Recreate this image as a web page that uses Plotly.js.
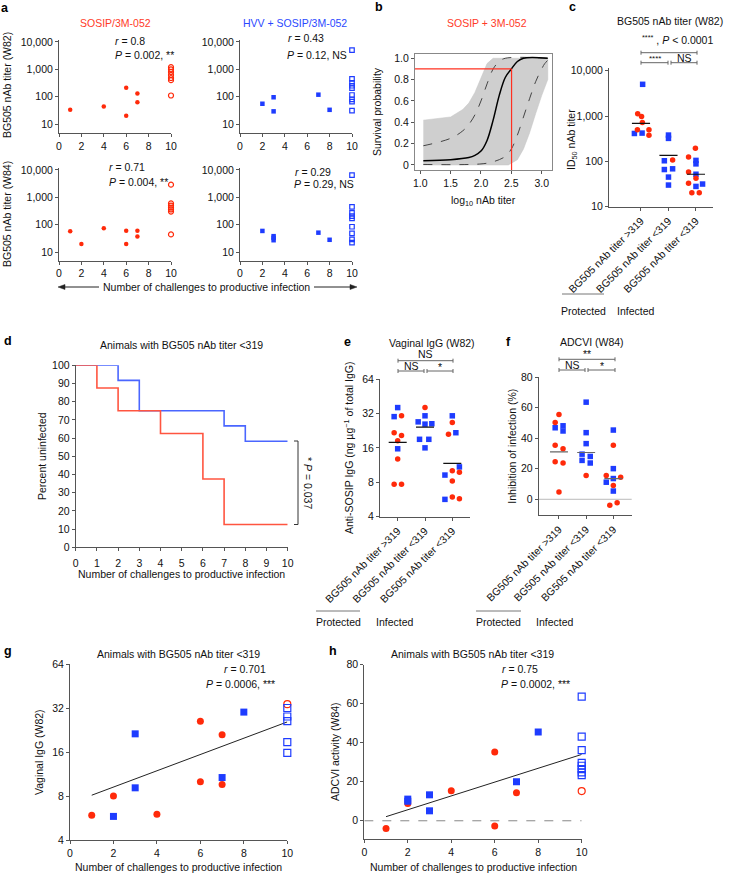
<!DOCTYPE html>
<html><head><meta charset="utf-8">
<script src="https://cdn.plot.ly/plotly-3.0.1.min.js"></script>
<style>html,body{margin:0;padding:0;background:#fff}#chart{width:729px;height:874px}</style>
</head><body><div id="chart"></div>
<script>
// ================= DATA =================
const MAX_CHALLENGES = 10;
// panel a : titer vs challenges (filled = infected, open = protected at 10 challenges)
const aSosipW82X = [1,4,6,6,7,7];
const aSosipW82Y = [33,44,210,20,130,62];
const aSosipW82Prot = [1200,1000,800,620,480,400,110];
const aHvvW82X = [2,3,3,7,8];
const aHvvW82Y = [55,95,29,118,33];
const aHvvW82Prot = [5000,450,320,250,205,115,80,66,31];
const aSosipW84X = [1,2,4,6,6,7,7];
const aSosipW84Y = [57,19.5,74,60,19.5,60,37];
const aSosipW84Prot = [2900,600,500,420,360,300,44];
const aHvvW84X = [2,3,3,3,7,8];
const aHvvW84Y = [59,38,33,27,51,28];
const aHvvW84Prot = [6500,450,270,205,170,84,48,29,22];
const aStats = [
  ["<i>r</i> = 0.8","<i>P</i> = 0.002, **"],
  ["<i>r</i> = 0.43","<i>P</i> = 0.12, NS"],
  ["<i>r</i> = 0.71","<i>P</i> = 0.004, **"],
  ["<i>r</i> = 0.29","<i>P</i> = 0.29, NS"]
];
// panel b : survival probability vs log10 titer
const bMedX = [1.05,1.5,1.8,1.9,2.0,2.1,2.2,2.3,2.4,2.5,2.6,2.7,3.1];
const bMedY = [0.04,0.05,0.07,0.09,0.13,0.23,0.42,0.65,0.82,0.9,0.97,1.0,1.0];
const bUpX = [1.05,1.5,1.7,1.8,1.9,2.0,2.1,2.2,2.3,2.4,3.1];
const bUpY = [0.18,0.25,0.32,0.38,0.47,0.6,0.76,0.9,0.97,1.0,1.0];
const bLoX = [1.05,2.0,2.2,2.4,2.5,2.6,2.7,2.8,2.9,3.0,3.05,3.1];
const bLoY = [0.005,0.01,0.03,0.08,0.15,0.28,0.45,0.62,0.78,0.9,0.95,0.98];
const bBandTopX = [1.05,1.5,1.7,1.8,1.9,2.0,2.1,2.2,3.1];
const bBandTopY = [0.42,0.45,0.52,0.58,0.68,0.82,0.95,1.0,1.0];
const bBandBotX = [1.05,2.45,2.6,2.7,2.8,2.9,3.0,3.1];
const bBandBotY = [0,0,0.05,0.15,0.3,0.48,0.65,0.8];
const bThresholdTiter = 319;
const bThresholdProb = 0.9;
// categories for c, e, f
const groupLabels = ["BG505 nAb titer >319","BG505 nAb titer <319","BG505 nAb titer <319"];
// panel c : ID50 titer
const cBlueY = [[5000,412,420],[380,321,103,68.5,66,45,30],[105,88,52,31.6,28]];
const cBlueDx = [[0.06,-0.24,0.04],[0,0,-0.15,0.15,-0.15,0,0],[0,0,0,0.24,0]];
const cRedY = [[1120,980,715,500,500,375],[107],[195,124,58,42.5,32.7,20.3,20.3]];
const cRedDx = [[-0.12,0.02,0.05,-0.13,0.29,0.29],[0.15],[-0.02,-0.27,-0.27,0,-0.27,-0.15,0.12]];
const cMedian = [690,135,52];
const cThreshold = 319;
// panel d : Kaplan-Meier
const dRedX = [0,1,2,4,6,7,10];
const dRedY = [100,87.5,75,62.5,37.5,12.5,12.5];
const dBlueX = [0,2,3,7,8,10];
const dBlueY = [100,91.7,75,66.7,58.3,58.3];
// panel e : vaginal IgG
const eBlueY = [[36,30,15.7],[30.5,27,25.8,26,19,19,16],[30.5,21.7,10.9,9.25,5.67]];
const eBlueDx = [[0,-0.13,0],[0,-0.25,0,0.25,-0.2,0.14,0],[0,0.13,0.26,-0.27,-0.27]];
const eRedY = [[30.5,21.7,20.5,18.5,12.8,7.7,7.7],[36],[26.7,21,10.1,9.8,8.2,5.95,5.75]];
const eRedDx = [[0.14,-0.13,0.14,0,0,-0.13,0.14],[0],[0,-0.14,0,0.26,0,0,0.26]];
const eMedian = [17.9,24.3,11.7];
// panel f : ADCVI
const fBlueY = [[46.9,48.2,44.8],[63.7,43.7,36.5,29.6,28.1,25.5,23.8],[45.4,20.1,13.6,11.2,5.4]];
const fBlueDx = [[-0.14,0.15,0.15],[0,0,0,-0.15,0.15,-0.15,0.15],[0,0,0,-0.26,0]];
const fRedY = [[55.6,50.4,35.5,33.1,24.6,23.8,4.8],[15.6],[35.5,15.6,14.5,9.1,-3.9,-2.2]];
const fRedDx = [[0,-0.14,-0.14,0.15,-0.14,0.15,0],[0],[0,-0.26,0.27,0,-0.13,0.14]];
const fMedian = [31.1,30.7,13.6];
// panel g : vaginal IgG vs challenges
const gRedX = [1,2,4,6,6,7,7];
const gRedY = [5.9,8.0,6.0,26,10,21,9.6];
const gRedProt = [34];
const gBlueX = [2,3,3,7,8];
const gBlueY = [5.8,21.3,9.1,10.7,30];
const gBlueProt = [32,28,26,18.7,15.8];
const gFitX = [1,10];
const gFitY = [8.1,25.7];
// panel h : ADCVI vs challenges
const hRedX = [1,2,4,6,6,7];
const hRedY = [-3.9,8.9,15.4,35.2,-2.7,14.4];
const hRedProt = [15.2];
const hBlueX = [2,2,3,3,7,8];
const hBlueY = [11.1,10.0,13.3,5.1,20,45.5];
const hBlueProt = [63.6,43.1,36.2,29.7,28.2,26.5,24.8,23.4];
const hFitX = [1,10];
const hFitY = [2.1,34];

// ================= STYLE / LAYOUT =================
const W = 729, H = 874;
const FONT = "Liberation Sans, Arial, Helvetica, sans-serif";
const RED = "#ff2a0a", BLUE = "#1e3cff", TXT = "#111";
const px = x => x / W, py = y => 1 - y / H;

const baseAx = {showline:true, linecolor:"#555", linewidth:1, ticks:"outside", ticklen:3, tickwidth:1,
  tickcolor:"#555", tickfont:{family:FONT,size:10.5,color:TXT}, showgrid:false, zeroline:false, fixedrange:true};
function xa(x0,x1,range,anchor,extra){return Object.assign({},baseAx,{domain:[px(x0),px(x1)],range,anchor},extra||{});}
function ya(yb,yt,range,anchor,extra){return Object.assign({},baseAx,{domain:[py(yb),py(yt)],range,anchor},extra||{});}

const logTicksA = {type:"log", tickvals:[10,100,1000,10000], ticktext:["10","100","1,000","10,000"]};
const xTicksA = {tickvals:[0,2,4,6,8,10]};
const catX = {tickvals:[1,2,3], ticktext:groupLabels, tickangle:-45};
const log2Ticks = {type:"log", tickvals:[4,8,16,32,64], ticktext:["4","8","16","32","64"]};

const layout = {
  width:W, height:H, margin:{l:0,r:0,t:0,b:0}, paper_bgcolor:"#fff", plot_bgcolor:"rgba(0,0,0,0)",
  showlegend:false, font:{family:FONT,size:10.5,color:TXT},
  xaxis: xa(59,171,[0,10],"y",xTicksA),
  yaxis: ya(133,40,[0.671,4.071],"x",logTicksA),
  xaxis2: xa(240,352,[0,10],"y2",xTicksA),
  yaxis2: ya(133,40,[0.671,4.071],"x2",logTicksA),
  xaxis3: xa(59,171,[0,10],"y3",xTicksA),
  yaxis3: ya(260.5,167.5,[0.69,4.09],"x3",logTicksA),
  xaxis4: xa(240,352,[0,10],"y4",xTicksA),
  yaxis4: ya(260.5,167.5,[0.69,4.09],"x4",logTicksA),
  xaxis5: xa(415,552,[0.913,3.17],"y5",{tickvals:[1,1.5,2,2.5,3],ticktext:["1.0","1.5","2.0","2.5","3.0"],mirror:true,linecolor:"#888"}),
  yaxis5: ya(170,54,[-0.047,1.04],"x5",{tickvals:[0,0.2,0.4,0.6,0.8,1],ticktext:["0","0.2","0.4","0.6","0.8","1.0"],mirror:true,linecolor:"#888"}),
  xaxis6: xa(609,713,[-0.164,3.62],"y6",catX),
  yaxis6: ya(206.7,68.4,[1,4.05],"x6",logTicksA),
  xaxis7: xa(75.7,287.7,[0,10],"y7",{dtick:1,ticklabelstandoff:3}),
  yaxis7: ya(547.3,365.3,[0,100],"x7",{dtick:10}),
  xaxis8: xa(380,470,[0.352,3.648],"y8",catX),
  yaxis8: ya(516.7,379,[Math.log10(4),Math.log10(64)],"x8",log2Ticks),
  xaxis9: xa(538.7,631.7,[0.254,3.676],"y9",catX),
  yaxis9: ya(515.3,377.3,[-10.5,80],"x9",{tickvals:[0,20,40,60,80]}),
  xaxis10: xa(70,287.3,[0,10],"y10",xTicksA),
  yaxis10: ya(840,664,[Math.log10(4),Math.log10(64)],"x10",log2Ticks),
  xaxis11: xa(364.3,581.7,[0,10],"y11",xTicksA),
  yaxis11: ya(839.3,664.7,[-9.5,80],"x11",{tickvals:[0,20,40,60,80]}),
  annotations:[], shapes:[]
};

const ann = layout.annotations, shp = layout.shapes;
function T(x,y,text,o){ann.push(Object.assign({xref:"paper",yref:"paper",x:px(x),y:py(y),text,showarrow:false,
  xanchor:"center",yanchor:"middle",font:{family:FONT,size:10.5,color:TXT}},o||{}));}
function L(x0,y0,x1,y1,color,width,dash){shp.push({type:"line",xref:"paper",yref:"paper",x0:px(x0),y0:py(y0),x1:px(x1),y1:py(y1),
  line:{color:color||"#555",width:width||1,dash:dash||"solid"}});}
function tri(pts){shp.push({type:"path",xref:"paper",yref:"paper",
  path:"M "+pts.map(p=>px(p[0])+","+py(p[1])).join(" L ")+" Z",fillcolor:"#222",line:{color:"#222",width:0.5}});}
function bracket(x0,x1,y){L(x0,y,x1,y,"#666",1);L(x0,y-2,x0,y+2,"#666",1);L(x1,y-2,x1,y+2,"#666",1);}
const bold = {font:{family:FONT,size:12.5,color:"#000"}};

// panel labels
T(5,8,"<b>a</b>",bold); T(379,7,"<b>b</b>",bold); T(572,7,"<b>c</b>",bold);
T(8,341,"<b>d</b>",bold); T(347,342,"<b>e</b>",bold); T(508,342,"<b>f</b>",bold);
T(8,651,"<b>g</b>",bold); T(333,651,"<b>h</b>",bold);

// panel a texts
T(115,23,"SOSIP/3M-052",{font:{family:FONT,size:10.5,color:"#ff3a28"}});
T(295,23,"HVV + SOSIP/3M-052",{font:{family:FONT,size:10.5,color:"#2a48ff"}});
const aStatPos = [[113,41,113,55],[286,38,285,55],[107,167,107,182],[293,172,292,184]];
aStats.forEach((s,i)=>{const p=aStatPos[i];T(p[0],p[1],s[0],{xanchor:"left"});T(p[2],p[3],s[1],{xanchor:"left"});});
T(7,85,"BG505 nAb titer (W82)",{textangle:-90});
T(7,214,"BG505 nAb titer (W84)",{textangle:-90});
T(206,287,"Number of challenges to productive infection");
L(64,287,99,287,"#222",1); tri([[58,287],[65,284.5],[65,289.5]]);
L(314,287,351,287,"#222",1); tri([[357,287],[350,284.5],[350,289.5]]);

// panel b texts
T(487,23,"SOSIP + 3M-052",{font:{family:FONT,size:10.5,color:"#ff3a28"}});
T(483,201,"log<sub>10</sub> nAb titer");
T(377,112,"Survival probability",{textangle:-90});
const bTx = Math.log10(bThresholdTiter);
shp.push({type:"line",xref:"x5",yref:"y5",x0:0.913,x1:bTx,y0:bThresholdProb,y1:bThresholdProb,line:{color:"#ff3020",width:1.2}});
shp.push({type:"line",xref:"x5",yref:"y5",x0:bTx,x1:bTx,y0:-0.047,y1:bThresholdProb,line:{color:"#ff3020",width:1.2}});

// panel c texts
T(670,21,"BG505 nAb titer (W82)");
T(677,39,"<sup>****</sup> , <i>P</i> < 0.0001");
bracket(641,697,52.7); bracket(641,668,62.7); bracket(671,697,62.7);
T(654.5,58.5,"****",{font:{family:FONT,size:8,color:TXT}});
T(684,58,"NS");
T(572,140,"ID<sub>50</sub> nAb titer",{textangle:-90});
shp.push({type:"line",xref:"paper",yref:"y6",x0:px(609),x1:px(713),y0:Math.log10(cThreshold),y1:Math.log10(cThreshold),line:{color:"#777",width:1,dash:"dash"}});
L(562,294,604,294,"#777",1); T(583,311,"Protected"); T(636,311,"Infected");

// panel d texts
T(181,345,"Animals with BG505 nAb titer <319");
T(42,456,"Percent uninfected",{textangle:-90});
T(181,574,"Number of challenges to productive infection");
L(298,441,298,524.5,"#333",1); L(294,441,298,441,"#333",1); L(294,524.5,298,524.5,"#333",1);
T(308,483,"* <i>P</i> = 0.037",{textangle:90});

// panel e texts
T(431.7,342.7,"Vaginal IgG (W82)"); T(425,353.5,"NS");
bracket(398,453,360.7); bracket(398,424,371); bracket(427,453,371);
T(411,366,"NS"); T(440,367,"*");
T(348,448,"Anti-SOSIP IgG (ng µg<sup>−1</sup> of total IgG)",{textangle:-90});
L(316,611,360,611,"#777",1); T(338,621.7,"Protected"); T(395,621.7,"Infected");

// panel f texts
T(591.7,341.7,"ADCVI (W84)"); T(586.7,354.5,"**");
bracket(559,615,359.3); bracket(559,585,370); bracket(588,615,370);
T(572.7,365,"NS"); T(601.7,366,"*");
T(511.7,446,"Inhibition of infection (%)",{textangle:-90});
shp.push({type:"line",xref:"paper",yref:"y9",x0:px(539),x1:px(631.7),y0:0,y1:0,line:{color:"#bbb",width:1}});
L(476,611,521,611,"#777",1); T(499,621.7,"Protected"); T(555,621.7,"Infected");

// panel g texts
T(178,654,"Animals with BG505 nAb titer <319");
T(245,669,"<i>r</i> = 0.701"); T(240,684,"<i>P</i> = 0.0006, ***");
T(39,752,"Vaginal IgG (W82)",{textangle:-90});
T(178,866.5,"Number of challenges to productive infection");

// panel h texts
T(472,654,"Animals with BG505 nAb titer <319");
T(500,669,"<i>r</i> = 0.75",{xanchor:"left"}); T(499,684,"<i>P</i> = 0.0002, ***",{xanchor:"left"});
T(335,752,"ADCVI activity (W84)",{textangle:-90});
T(473,866.5,"Number of challenges to productive infection");
shp.push({type:"line",xref:"x11",yref:"y11",x0:0,x1:10,y0:0,y1:0,line:{color:"#888",width:1,dash:"dash"}});

// ================= TRACES =================
const traces = [];
function pts(x,y,ax,sym,color,size,open){
  traces.push({type:"scatter",mode:"markers",x,y,xaxis:"x"+(ax===1?"":ax),yaxis:"y"+(ax===1?"":ax),cliponaxis:false,
    marker:{symbol:sym+(open?"-open":""),color,size,line:{color,width:open?1.2:0}}});
}
const tens = arr => arr.map(()=>MAX_CHALLENGES);
// a
pts(aSosipW82X,aSosipW82Y,1,"circle",RED,4.5);
pts(tens(aSosipW82Prot),aSosipW82Prot,1,"circle",RED,5,true);
pts(aHvvW82X,aHvvW82Y,2,"square",BLUE,4.5);
pts(tens(aHvvW82Prot),aHvvW82Prot,2,"square",BLUE,4.5,true);
pts(aSosipW84X,aSosipW84Y,3,"circle",RED,4.5);
pts(tens(aSosipW84Prot),aSosipW84Prot,3,"circle",RED,5,true);
pts(aHvvW84X,aHvvW84Y,4,"square",BLUE,4.5);
pts(tens(aHvvW84Prot),aHvvW84Prot,4,"square",BLUE,4.5,true);
// b
traces.push({type:"scatter",mode:"lines",x:bBandTopX.concat(bBandBotX.slice().reverse()),y:bBandTopY.concat(bBandBotY.slice().reverse()),
  fill:"toself",fillcolor:"#cfcfcf",line:{color:"#c4c4c4",width:0.5},xaxis:"x5",yaxis:"y5",hoverinfo:"skip"});
traces.push({type:"scatter",mode:"lines",x:bUpX,y:bUpY,line:{color:"#444",width:1,dash:"dash",shape:"spline"},xaxis:"x5",yaxis:"y5"});
traces.push({type:"scatter",mode:"lines",x:bLoX,y:bLoY,line:{color:"#444",width:1,dash:"dash",shape:"spline"},xaxis:"x5",yaxis:"y5"});
traces.push({type:"scatter",mode:"lines",x:bMedX,y:bMedY,line:{color:"#000",width:1.5,shape:"spline"},xaxis:"x5",yaxis:"y5"});
// categorical scatter helper
function cat(bY,bDx,rY,rDx,med,ax,medColor){
  for(let g=0;g<3;g++){
    pts(bDx[g].map(d=>g+1+d),bY[g],ax,"square",BLUE,5.5);
    pts(rDx[g].map(d=>g+1+d),rY[g],ax,"circle",RED,5.5);
  }
  const mx=[],my=[];
  med.forEach((m,g)=>{mx.push(g+1-0.33,g+1+0.33,null);my.push(m,m,null);});
  traces.push({type:"scatter",mode:"lines",x:mx,y:my,xaxis:"x"+ax,yaxis:"y"+ax,line:{color:medColor,width:1.2},cliponaxis:false});
}
cat(cBlueY,cBlueDx,cRedY,cRedDx,cMedian,6,"#111");
// d
traces.push({type:"scatter",mode:"lines",x:dBlueX,y:dBlueY,line:{color:"#4a66ff",width:1.6,shape:"hv"},xaxis:"x7",yaxis:"y7",cliponaxis:false});
traces.push({type:"scatter",mode:"lines",x:dRedX,y:dRedY,line:{color:"#ff5540",width:1.6,shape:"hv"},xaxis:"x7",yaxis:"y7",cliponaxis:false});
// e, f
cat(eBlueY,eBlueDx,eRedY,eRedDx,eMedian,8,"#111");
cat(fBlueY,fBlueDx,fRedY,fRedDx,fMedian,9,"#666");
// g
traces.push({type:"scatter",mode:"lines",x:gFitX,y:gFitY,line:{color:"#222",width:1},xaxis:"x10",yaxis:"y10"});
pts(gRedX,gRedY,10,"circle",RED,7);
pts(tens(gRedProt),gRedProt,10,"circle",RED,7,true);
pts(gBlueX,gBlueY,10,"square",BLUE,7);
pts(tens(gBlueProt),gBlueProt,10,"square",BLUE,7,true);
// h
traces.push({type:"scatter",mode:"lines",x:hFitX,y:hFitY,line:{color:"#222",width:1},xaxis:"x11",yaxis:"y11"});
pts(hRedX,hRedY,11,"circle",RED,7);
pts(tens(hRedProt),hRedProt,11,"circle",RED,7,true);
pts(hBlueX,hBlueY,11,"square",BLUE,7);
pts(tens(hBlueProt),hBlueProt,11,"square",BLUE,7,true);

Plotly.newPlot("chart",traces,layout,{displayModeBar:false,staticPlot:true});
</script></body></html>
